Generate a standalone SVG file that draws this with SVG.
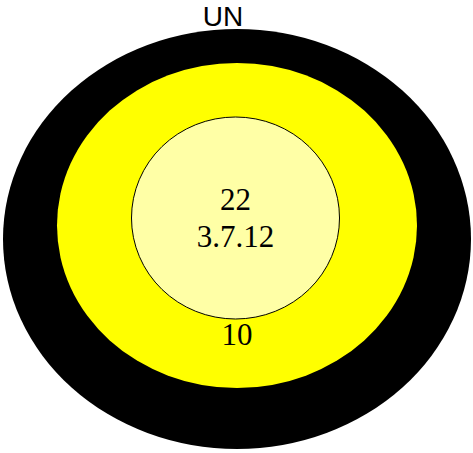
<svg xmlns="http://www.w3.org/2000/svg" width="473" height="453" viewBox="0 0 473 453">
<style>
.serif{font-family:"Liberation Serif","Times New Roman",serif;font-size:31px;fill:#000;text-anchor:middle}
.sans{font-family:"Liberation Sans",Arial,sans-serif;font-size:28px;fill:#000;text-anchor:middle}
</style>
<rect width="473" height="453" fill="#fff"/>
<g id="un">
<ellipse cx="237" cy="239" rx="234" ry="210" fill="#000"/>
<text class="sans" x="223" y="26">UN</text>
</g>
<g id="n10">
<ellipse cx="237" cy="225.5" rx="180" ry="162.5" fill="#ffff00"/>
<text class="serif" x="237" y="345">10</text>
</g>
<g id="n22">
<ellipse cx="235.5" cy="218" rx="104" ry="101" fill="#ffffa6" stroke="#000" stroke-width="1"/>
<text class="serif" x="235.5" y="210">22</text>
<text class="serif" x="235.5" y="247">3.7.12</text>
</g>
<g id="connectors"/>
</svg>
